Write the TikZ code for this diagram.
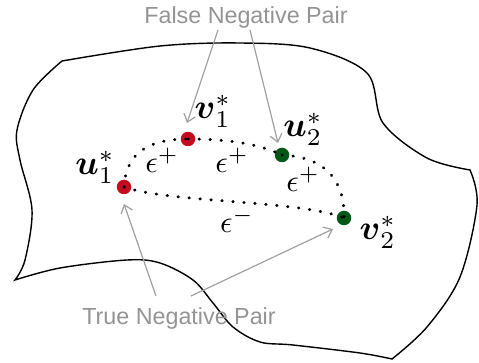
\documentclass[tikz,border=0pt]{standalone}
\usepackage{amsmath,amsbsy}
\usepackage{fontspec}
\setmainfont{Liberation Sans}
\usetikzlibrary{arrows.meta}
\definecolor{dotred}{RGB}{196,12,30}
\definecolor{dotgreen}{RGB}{0,88,22}
\definecolor{pairgray}{RGB}{148,148,148}
\definecolor{arrgray}{RGB}{160,160,160}
\tikzset{
  outline/.style={line width=1.4pt, line join=miter},
  pt/.style={circle, inner sep=0pt, minimum size=14.5pt},
  redpt/.style={pt, fill=dotred},
  greenpt/.style={pt, fill=dotgreen},
  dotline/.style={line width=3pt, dash pattern=on 0.4pt off 10.6pt, line cap=round},
  lab/.style={scale=3.45, inner sep=0pt},
  eps/.style={scale=3.1, inner sep=0pt},
  pairtxt/.style={text=pairgray, font=\fontsize{23.3}{28}\selectfont, inner sep=0pt, anchor=base},
  grayarrow/.style={draw=arrgray, line width=1.2pt, -{Straight Barb[length=7.5pt,width=12pt,line width=1.2pt]}},
}
\begin{document}
\begin{tikzpicture}[x=1pt,y=-1pt]
\useasboundingbox (0,0) rectangle (479,363);
% manifold outline
\draw[outline]
  plot[smooth, tension=0.55] coordinates {(62,61) (160,46) (240,43) (310,48) (367,73) (383,123) (427,158) (470,170)}
  -- plot[smooth, tension=0.55] coordinates {(470,170) (477,205) (460,277) (427,327) (392,359)}
  -- plot[smooth, tension=0.55] coordinates {(392,359) (360,353) (293,345) (260,342) (233,327) (213,303) (193,280) (160,263) (127,260) (60,268) (15,280)}
  -- plot[smooth, tension=0.55] coordinates {(15,280) (25,260) (32,210) (20,160) (17,130) (33,90) (62,61)} -- cycle;
% points
\node[redpt] (u1) at (124,187) {};
\node[redpt] (v1) at (188,139) {};
\node[greenpt] (u2) at (282,155) {};
\node[greenpt] (v2) at (344,218) {};
% dotted geodesics
\draw[dotline] (u1.center) .. controls (126,152) and (150,139) .. (v1.center);
\draw[dotline] (v1.center) .. controls (220,139) and (255,142) .. (u2.center);
\draw[dotline] (u2.center) .. controls (325,157) and (345,180) .. (v2.center);
\draw[dotline] (u1.center) .. controls (170,203) and (300,200) .. (v2.center);
% labels
\node[lab] (lu1) at (95,167) {$\boldsymbol{u}_1^*$};
\node[lab] (lv1) at (213,111) {$\boldsymbol{v}_1^*$};
\node[lab] (lu2) at (303,129) {$\boldsymbol{u}_2^*$};
\node[lab] (lv2) at (378,232) {$\boldsymbol{v}_2^*$};
\node[eps] (e1) at (162,160) {$\epsilon^+$};
\node[eps] (e2) at (232,160) {$\epsilon^+$};
\node[eps] (e3) at (303,179) {$\epsilon^+$};
\node[eps] (e4) at (237,220) {$\epsilon^-$};
% pair texts
\node[pairtxt] (fn) at (246,24) {False Negative Pair};
\node[pairtxt] (tn) at (179,324) {True Negative Pair};
% arrows
\coordinate (fa) at (218,30);
\coordinate (fb) at (250,30);
\coordinate (ta) at (156,296);
\coordinate (tb) at (191,296);
\coordinate (fat) at (187,123);
\coordinate (fbt) at (278,143);
\coordinate (tat) at (124,204);
\coordinate (tbt) at (333,229);
\draw[grayarrow] (fa) -- (fat);
\draw[grayarrow] (fb) -- (fbt);
\draw[grayarrow] (ta) -- (tat);
\draw[grayarrow] (tb) -- (tbt);
\end{tikzpicture}
\end{document}
